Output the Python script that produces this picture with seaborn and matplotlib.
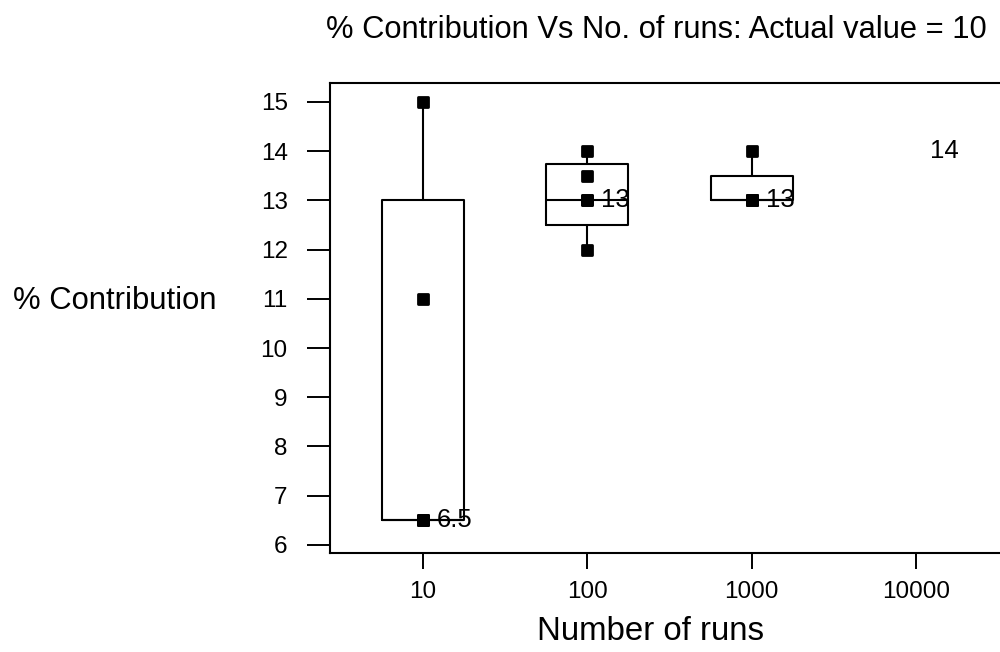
import math
import matplotlib
matplotlib.use("Agg")
import matplotlib.pyplot as plt
import numpy as np
import pandas as pd
import seaborn as sns

# Observed % contribution for each number of simulation runs
run_counts = ["10", "100", "1000", "10000"]
contrib_10 = [6.5, 6.5, 6.5, 11, 15]
contrib_100 = [12, 13, 13, 13.5, 14]
contrib_1000 = [13, 13, 13, 13, 14]
contrib_10000 = [14]
y_ticks = [6, 7, 8, 9, 10, 11, 12, 13, 14, 15]

groups = [contrib_10, contrib_100, contrib_1000, contrib_10000]

sns.set_theme(style="ticks")
plt.rcParams["font.family"] = ["Liberation Sans", "DejaVu Sans"]


def quartile(values, p):
    """Quartile at position p*(n+1) with linear interpolation."""
    s = sorted(values)
    n = len(s)
    pos = p * (n + 1)
    k = math.floor(pos)
    f = pos - k
    if k < 1:
        return s[0]
    if k >= n:
        return s[-1]
    return s[k - 1] + f * (s[k] - s[k - 1])


def box_stats(values):
    q1, med, q3 = quartile(values, 0.25), quartile(values, 0.5), quartile(values, 0.75)
    iqr = q3 - q1
    inside = [v for v in values if q1 - 1.5 * iqr <= v <= q3 + 1.5 * iqr]
    return dict(med=med, q1=q1, q3=q3, whislo=min(inside), whishi=max(inside), fliers=[])


rows = []
for label, vals in zip(run_counts, groups):
    for v in vals:
        rows.append({"runs": label, "contribution": v, "n": len(vals)})
df = pd.DataFrame(rows)

fig = plt.figure(figsize=(10, 6.52), dpi=100)
ax = fig.add_axes([0.33, 0.152, 0.6845, 0.7207])

drawn = [i for i, vals in enumerate(groups) if len(vals) > 1]
stats = [box_stats(groups[i]) for i in drawn]
line_kw = dict(color="black", linewidth=1.5)
ax.bxp(stats, positions=drawn, widths=0.5, showcaps=False, showfliers=False,
       boxprops=line_kw, whiskerprops=line_kw, medianprops=line_kw, patch_artist=False)

sns.stripplot(data=df[df["n"] > 1], x="runs", y="contribution", order=run_counts,
              jitter=False, marker="s", size=7.5, color="black", edgecolor="black",
              linewidth=2.0, ax=ax, zorder=5)
for coll in ax.collections:
    coll.set_joinstyle("round")

# Median value written beside each group
for i, vals in enumerate(groups):
    med = quartile(vals, 0.5)
    ax.text(i + 0.085, med, f"{med:g}", ha="left", va="center", fontsize=18.5,
            color="black", zorder=6)

ax.set_xticks(range(len(run_counts)))
ax.set_xticklabels(run_counts)
ax.set_yticks(y_ticks)
ax.set_xlim(-0.566, 3.6)
ax.set_ylim(5.837, 15.386)
ax.set_xlabel("")
ax.set_ylabel("")

for side in ["top", "right", "left", "bottom"]:
    ax.spines[side].set_visible(True)
    ax.spines[side].set_linewidth(1.5)
    ax.spines[side].set_color("black")
ax.tick_params(axis="y", direction="out", length=16.5, width=1.4, pad=14,
               labelsize=17.5, colors="black")
ax.tick_params(axis="x", direction="out", length=11.5, width=1.4, pad=9,
               labelsize=17.5, colors="black")

fig.text(0.656, 1 - 30 / 652, "% Contribution Vs No. of runs: Actual value = 10",
         ha="center", va="center", fontsize=22.2, color="black")
fig.text(0.651, 1 - 632 / 652, "Number of runs", ha="center", va="center",
         fontsize=23.8, color="black")
fig.text(0.013, 1 - 301 / 652, "% Contribution", ha="left", va="center",
         fontsize=22.3, color="black")

fig.savefig("out.png", dpi=100, facecolor="white")
